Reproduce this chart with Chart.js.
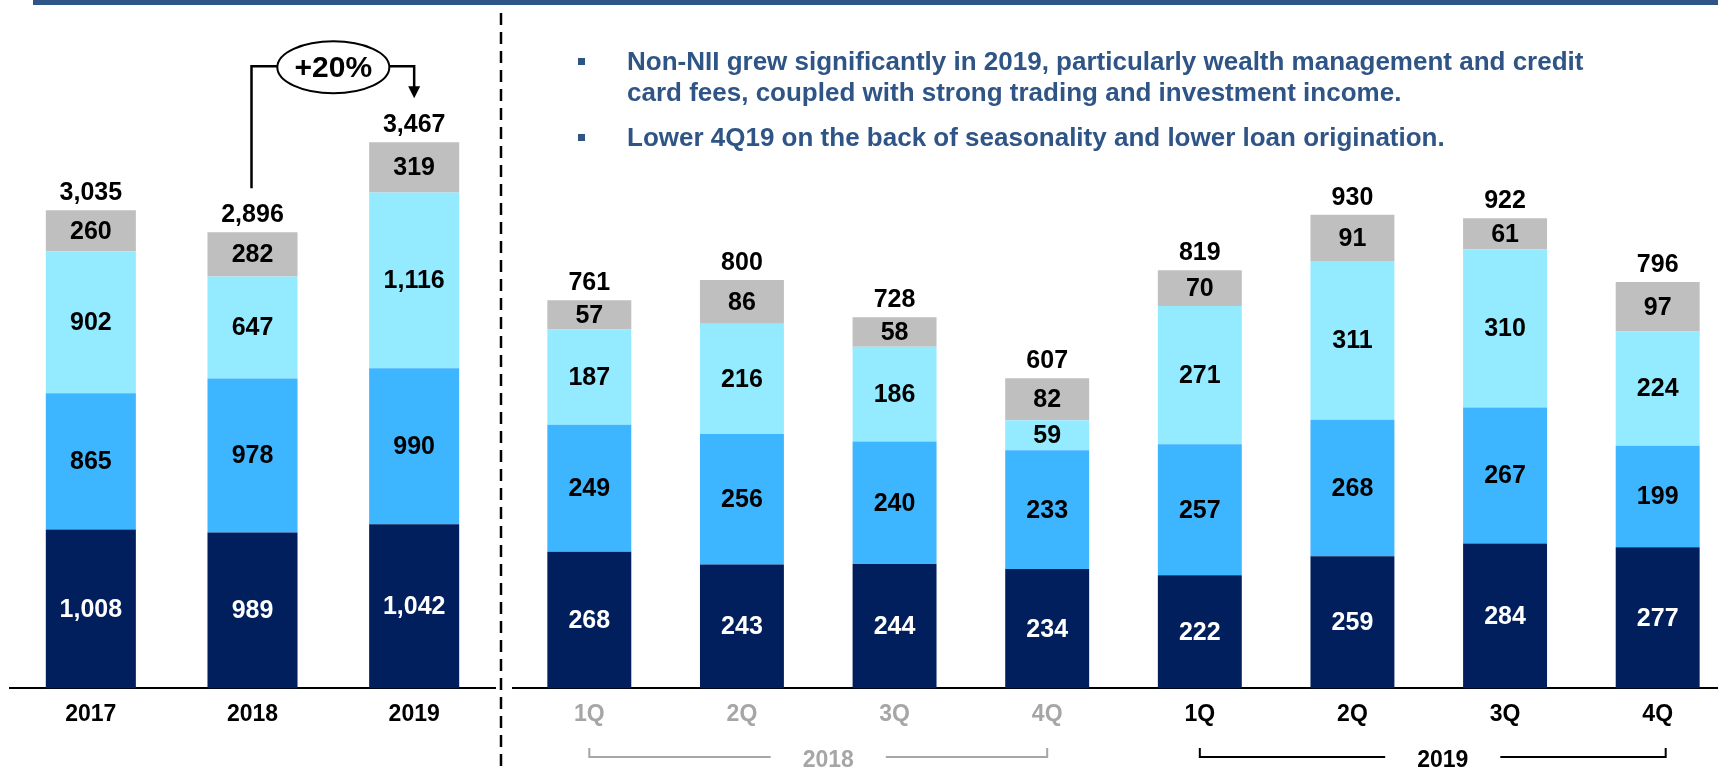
<!DOCTYPE html>
<html>
<head>
<meta charset="utf-8">
<script src="https://cdn.jsdelivr.net/npm/chart.js@4.4.0/dist/chart.umd.min.js"></script>
<style>
    html, body { margin: 0; padding: 0; width: 1718px; height: 770px; overflow: hidden; background: #fff; }
    body { position: relative; font-family: "Liberation Sans", Arial, sans-serif; }
    #topbar { position: absolute; left: 33px; top: 0; width: 1685px; height: 5px; background: #2F5486; }
    canvas { position: absolute; left: 0; top: 0; }
    .note { position: absolute; left: 627px; width: 1090px; font-size: 26px; line-height: 31px; font-weight: bold; color: #2F5486; white-space: nowrap; }
    .note::before { content: ''; position: absolute; left: -49px; top: 12px; width: 7px; height: 7px; background: #2F5486; }
</style>
</head>
<body>
<div id="topbar"></div>
<canvas id="annual" width="1760" height="770"></canvas>
<canvas id="quarterly" width="1760" height="770"></canvas>
<div class="note" style="top:46px">Non-NII grew significantly in 2019, particularly wealth management and credit<br>card fees, coupled with strong trading and investment income.</div>
<div class="note" style="top:122px">Lower 4Q19 on the back of seasonality and lower loan origination.</div>
<script>
    // Annual data
    const years = ['2017', '2018', '2019'];
    const annualSeries1 = [1008, 989, 1042];
    const annualSeries2 = [865, 978, 990];
    const annualSeries3 = [902, 647, 1116];
    const annualSeries4 = [260, 282, 319];
    const annualTotals = [3035, 2896, 3467];

    // Quarterly data
    const quarters = ['1Q', '2Q', '3Q', '4Q', '1Q', '2Q', '3Q', '4Q'];
    const quarterYears = ['2018', '2019'];
    const quarterSeries1 = [268, 243, 244, 234, 222, 259, 284, 277];
    const quarterSeries2 = [249, 256, 240, 233, 257, 268, 267, 199];
    const quarterSeries3 = [187, 216, 186, 59, 271, 311, 310, 224];
    const quarterSeries4 = [57, 86, 58, 82, 70, 91, 61, 97];
    const quarterTotals = [761, 800, 728, 607, 819, 930, 922, 796];

    const colors = ['#001F5C', '#3DB5FF', '#94EAFF', '#BFBFBF'];
    const labelColors = ['#FFFFFF', '#000000', '#000000', '#000000'];
    const FONT = '"Liberation Sans", Arial, sans-serif';
    const fmt = (v) => v.toLocaleString('en-US');

    const makeDatasets = (rows, barPct) =>
        rows.map((data, i) => ({
            data,
            backgroundColor: colors[i],
            borderWidth: 0,
            categoryPercentage: 1,
            barPercentage: barPct
        }));

    // Segment values and totals on the bars
    const valueLabels = (totals) => ({
        id: 'valueLabels',
        afterDatasetsDraw(chart) {
            const ctx = chart.ctx;
            ctx.save();
            ctx.font = 'bold 25px ' + FONT;
            ctx.textAlign = 'center';
            chart.data.datasets.forEach((ds, i) => {
                const meta = chart.getDatasetMeta(i);
                ctx.fillStyle = labelColors[i];
                ctx.textBaseline = 'middle';
                meta.data.forEach((el, j) => {
                    ctx.fillText(fmt(ds.data[j]), el.x, (el.y + el.base) / 2 + 1);
                });
            });
            const topMeta = chart.getDatasetMeta(chart.data.datasets.length - 1);
            ctx.fillStyle = '#000';
            ctx.textBaseline = 'alphabetic';
            topMeta.data.forEach((el, j) => {
                ctx.fillText(fmt(totals[j]), el.x, el.y - 10);
            });
            ctx.restore();
        }
    });

    // Growth bracket 2018 -> 2019 and the dashed divider
    const growthBracket = {
        id: 'growthBracket',
        afterDraw(chart) {
            const ctx = chart.ctx;
            const topMeta = chart.getDatasetMeta(3);
            const a = topMeta.data[1];
            const b = topMeta.data[2];
            const lineY = chart.scales.y.getPixelForValue(Math.max(...annualTotals)) - 76;
            const cx = (a.x + b.x) / 2;
            const rx = 56, ry = 26;
            const growth = Math.round((annualTotals[2] / annualTotals[1] - 1) * 100);

            ctx.save();
            ctx.strokeStyle = '#000';
            ctx.fillStyle = '#000';
            ctx.lineWidth = 2.5;
            ctx.beginPath();
            ctx.moveTo(a.x - 1, a.y - 44);
            ctx.lineTo(a.x - 1, lineY);
            ctx.lineTo(cx - rx, lineY);
            ctx.moveTo(cx + rx, lineY);
            ctx.lineTo(b.x, lineY);
            ctx.lineTo(b.x, b.y - 54);
            ctx.stroke();
            ctx.beginPath();
            ctx.moveTo(b.x - 6, b.y - 56);
            ctx.lineTo(b.x + 6, b.y - 56);
            ctx.lineTo(b.x, b.y - 44);
            ctx.closePath();
            ctx.fill();

            ctx.lineWidth = 2;
            ctx.beginPath();
            ctx.ellipse(cx, lineY + 1, rx, ry, 0, 0, Math.PI * 2);
            ctx.stroke();
            ctx.font = 'bold 30px ' + FONT;
            ctx.textAlign = 'center';
            ctx.textBaseline = 'middle';
            ctx.fillText('+' + growth + '%', cx, lineY + 2);

            // divider
            ctx.lineWidth = 2.5;
            ctx.setLineDash([12, 7]);
            ctx.beginPath();
            ctx.moveTo(501, 13);
            ctx.lineTo(501, 770);
            ctx.stroke();
            ctx.restore();
        }
    };

    // Year brackets under the quarter labels
    const yearBrackets = {
        id: 'yearBrackets',
        afterDraw(chart) {
            const ctx = chart.ctx;
            const x = chart.scales.x;
            const y = 757;
            ctx.save();
            ctx.font = 'bold 23px ' + FONT;
            ctx.textAlign = 'center';
            ctx.textBaseline = 'middle';
            quarterYears.forEach((yr, g) => {
                const color = g === 0 ? '#A6A6A6' : '#000';
                const x1 = x.getPixelForValue(g * 4);
                const x2 = x.getPixelForValue(g * 4 + 3) + (g === 1 ? 8 : 0);
                const tx = (x1 + x2) / 2 + 10;
                const half = ctx.measureText(yr).width / 2 + 32;
                ctx.strokeStyle = color;
                ctx.fillStyle = color;
                ctx.lineWidth = 2;
                ctx.beginPath();
                ctx.moveTo(x1, y - 9);
                ctx.lineTo(x1, y);
                ctx.lineTo(tx - half, y);
                ctx.moveTo(tx + half, y);
                ctx.lineTo(x2, y);
                ctx.lineTo(x2, y - 9);
                ctx.stroke();
                ctx.fillText(yr, tx, y + 4);
            });
            ctx.restore();
        }
    };

    const baseOptions = (padLeft, padRight, yMax, tickColor) => ({
        responsive: false,
        animation: false,
        devicePixelRatio: 1,
        layout: { padding: { left: padLeft, right: padRight, top: 0, bottom: 30 } },
        plugins: { legend: { display: false }, tooltip: { enabled: false } },
        scales: {
            x: {
                stacked: true,
                grid: { display: false, drawTicks: false },
                border: { display: true, color: '#000', width: 2 },
                ticks: {
                    color: tickColor,
                    padding: 12,
                    font: { family: FONT, size: 23, weight: 'bold' }
                }
            },
            y: { stacked: true, display: false, min: 0, max: yMax }
        }
    });

    new Chart(document.getElementById('annual'), {
        type: 'bar',
        data: {
            labels: years,
            datasets: makeDatasets([annualSeries1, annualSeries2, annualSeries3, annualSeries4], 0.557)
        },
        options: baseOptions(10, 1265, 4370, '#000'),
        plugins: [valueLabels(annualTotals), growthBracket]
    });

    new Chart(document.getElementById('quarterly'), {
        type: 'bar',
        data: {
            labels: quarters,
            datasets: makeDatasets([quarterSeries1, quarterSeries2, quarterSeries3, quarterSeries4], 0.55)
        },
        options: baseOptions(513, 26, 1350, (c) => (c.index < 4 ? '#A6A6A6' : '#000')),
        plugins: [valueLabels(quarterTotals), yearBrackets]
    });
</script>
</body>
</html>
